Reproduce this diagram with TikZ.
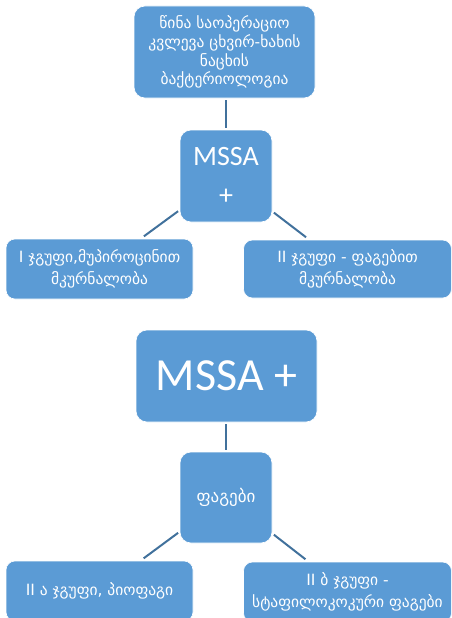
\documentclass[tikz,border=0pt]{standalone}
\usepackage{fontspec}
\setmainfont{Carlito}
\newfontfamily\geo{DejaVu Sans}
\definecolor{boxblue}{HTML}{5B9BD5}
\definecolor{linkblue}{HTML}{41719C}
\tikzset{
  blockbox/.style={rectangle, rounded corners=11pt, fill=boxblue, draw=white, line width=0.6pt,
    text=white, align=center, inner sep=0pt},
  geotext/.style={font={\geo\fontsize{15.5}{21.5}\selectfont}},
  conn/.style={draw=linkblue, line width=2pt},
}
\begin{document}
\begin{tikzpicture}[x=1pt,y=-1pt]
\useasboundingbox (0,0) rectangle (451,618);
\clip (0,0) rectangle (451,618);
\node[blockbox, minimum width=181pt, minimum height=92pt, font={\geo\fontsize{15.5}{18.7}\selectfont}] (top) at (224.5,52)
  {წინა საოპერაციო\\ კვლევა ცხვირ-ხახის\\ ნაცხის\\ ბაქტერიოლოგია};
\node[blockbox, minimum width=92pt, minimum height=92pt, font={\fontsize{28}{39}\selectfont}] (m1) at (226,176)
  {MSSA\\ +};
\node[blockbox, geotext, minimum width=187pt, minimum height=60pt, rounded corners=9pt] (l1) at (99.5,269)
  {I ჯგუფი,მუპიროცინით\\ მკურნალობა};
\node[blockbox, geotext, minimum width=208pt, minimum height=58pt, rounded corners=9pt] (r1) at (347.5,269)
  {II ჯგუფი - ფაგებით\\ მკურნალობა};
\node[blockbox, minimum width=181pt, minimum height=92pt, font={\fontsize{46}{50}\selectfont}] (m2) at (226.5,376)
  {MSSA +};
\node[blockbox, minimum width=92pt, minimum height=91pt, font={\geo\fontsize{17}{20}\selectfont}] (f) at (226,497.5)
  {ფაგები};
\node[blockbox, geotext, minimum width=187pt, minimum height=60pt, rounded corners=9pt] (l2) at (99.5,591)
  {II ა ჯგუფი, პიოფაგი};
\node[blockbox, geotext, minimum width=208pt, minimum height=60pt, rounded corners=9pt] (r2) at (347.5,592)
  {II ბ ჯგუფი -\\ სტაფილოკოკური ფაგები};
\draw[conn, shorten <=2pt, shorten >=2pt] (top.south -| m1.north) -- (m1.north);
\draw[conn, shorten <=2pt, shorten >=2pt] (m2.south -| f.north) -- (f.north);
\draw[conn, shorten <=2pt, shorten >=4pt] (m1) -- (l1);
\draw[conn, shorten <=2pt, shorten >=4pt] (m1) -- (r1);
\draw[conn, shorten <=2pt, shorten >=4pt] (f) -- (l2);
\draw[conn, shorten <=2pt, shorten >=4pt] (f) -- (r2);
\end{tikzpicture}
\end{document}
